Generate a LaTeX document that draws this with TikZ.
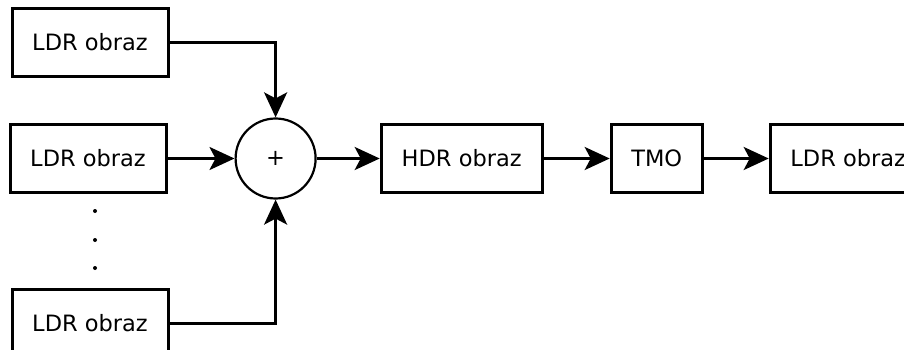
\documentclass[tikz,border=0pt]{standalone}
\usepackage{fontspec}
\setmainfont{DejaVu Sans}
\usetikzlibrary{positioning,arrows.meta}

\begin{document}
\begin{tikzpicture}[x=1pt,y=-1pt,node distance={65pt},
    box/.style = {draw, line width=3pt, inner xsep=2pt, minimum width=156pt, minimum height=68pt, font=\fontsize{22.5}{27}\selectfont},
    sum/.style = {draw, circle, line width=2.2pt, minimum size=80pt, inner sep=0pt, font=\fontsize{22.5}{27}\selectfont},
    conn/.style = {line width=2.7pt, -{Stealth[length=25pt, width=23pt, inset=6pt]}}]
        \useasboundingbox (0,0) rectangle (904,350);
        \clip (0,0) rectangle (904,350);
        \node[box] (LdrTwo) at (88,158.5) {LDR obraz};
        \node[box] (LdrOne) [above=45pt of LdrTwo.north east, anchor=south east, xshift=2pt] {LDR obraz};
        \node[box] (LdrThree) [below=94pt of LdrTwo.south east, anchor=north east, xshift=2pt] {LDR obraz};
        \node[sum] (Sum) [right=67pt of LdrTwo] {+};
        \node[box, minimum width=161pt] (Hdr) [right=63pt of Sum] {HDR obraz};
        \node[box, minimum width=91pt] (Tmo) [right=66pt of Hdr] {TMO};
        \node[box] (LdrOut) [right=of Tmo] {LDR obraz};
        \foreach \y in {211,240,268} \fill (95,\y) circle (2pt);
        \draw[conn] (LdrOne.east) -| (Sum.north);
        \draw[conn] (LdrTwo) to (Sum);
        \draw[conn] (LdrThree.east) -| (Sum.south);
        \draw[conn] (Sum) to (Hdr);
        \draw[conn] (Hdr) to (Tmo);
        \draw[conn] (Tmo) to (LdrOut);
    \end{tikzpicture}
\end{document}
